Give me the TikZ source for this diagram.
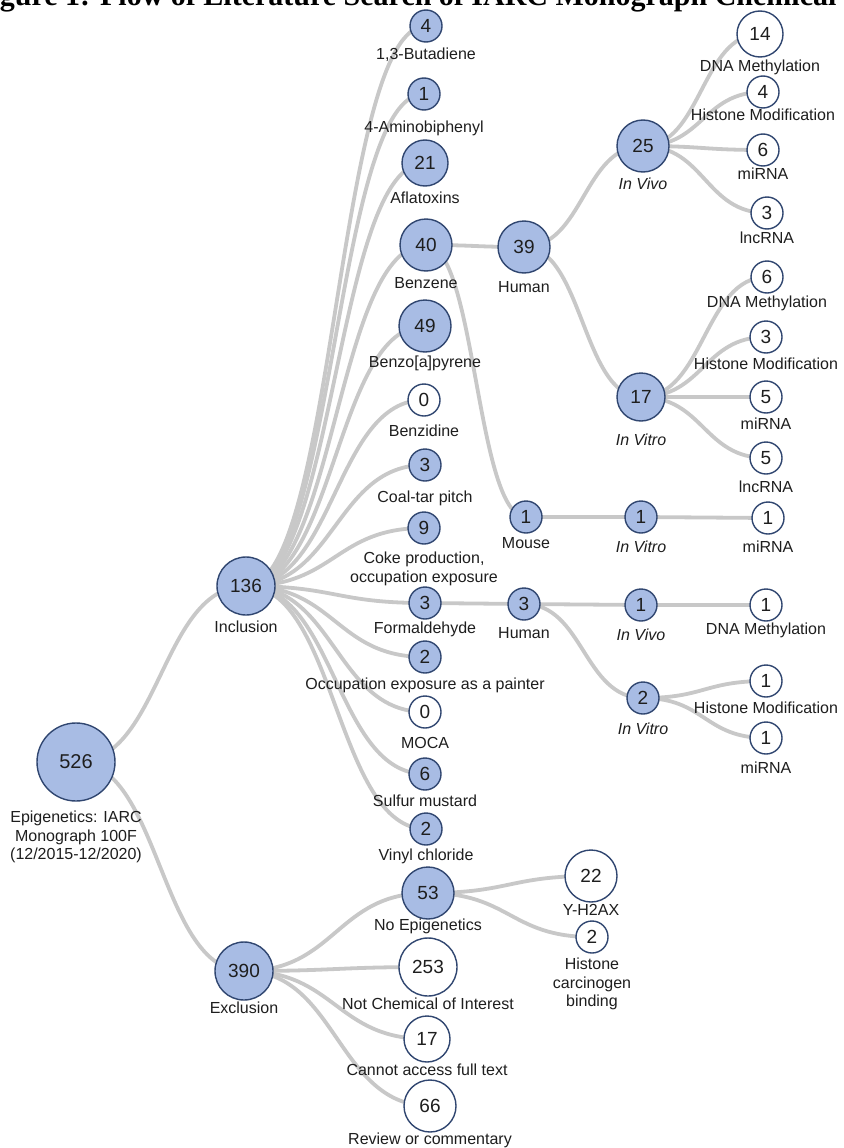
\documentclass[tikz,border=0pt]{standalone}
\usepackage{fontspec}
\setmainfont{Liberation Sans}
\newfontfamily\titlefont{Liberation Serif}
\usetikzlibrary{calc}
\pgfdeclarelayer{bg}
\pgfdeclarelayer{paper}
\pgfsetlayers{paper,bg,main}
\definecolor{nodefill}{RGB}{168,188,228}
\definecolor{nodeline}{RGB}{48,70,112}
\definecolor{linkgray}{RGB}{200,200,200}
\definecolor{txt}{RGB}{30,30,30}
\tikzset{
  bnode/.style={circle, draw=nodeline, line width=1.4pt, fill=nodefill, inner sep=0pt, text=txt, font=\fontsize{19}{19}\selectfont},
  wnode/.style={bnode, fill=white},
  lbl/.style={text=txt, font=\fontsize{16}{18.5}\selectfont, align=center, inner sep=0pt},
  ilbl/.style={lbl, font=\fontsize{16}{18.5}\selectfont\itshape},
  link/.style={draw=linkgray, line width=3.8pt}
}
% name, style, x, y, diameter, number, label y, label
\newcommand{\cn}[8]{%
  \node[#2, minimum size=#5pt] (#1) at (#3,#4) {#6};
  \node[lbl] (#1l) at (#3,#7) {#8};
}
\newcommand{\cni}[8]{%
  \node[#2, minimum size=#5pt] (#1) at (#3,#4) {#6};
  \node[ilbl] (#1l) at (#3,#7) {#8};
}
\newcommand{\lk}[2]{%
  \begin{pgfonlayer}{bg}
  \path (#1.center) -- coordinate (lkm) (#2.center);
  \draw[link] (#1.center) .. controls (lkm |- #1.center) and (lkm |- #2.center) .. (#2.center);
  \end{pgfonlayer}}
\begin{document}
\begin{tikzpicture}[x=1pt, y=-1pt]
\useasboundingbox (0,0) rectangle (843,1148);
\begin{pgfonlayer}{paper}
\fill[white] (0,0) rectangle (843,1148);
\end{pgfonlayer}
\begin{scope}
\clip (0,0) rectangle (843,1148);
\node[anchor=base west, inner sep=0pt, font=\fontsize{30}{30}\titlefont\bfseries] (title) at (-27,6) {Figure 1: Flow of Literature Search of IARC Monograph Chemical Agents};
\end{scope}

% root and first level
\node[bnode, minimum size=78pt, font=\fontsize{20}{20}\selectfont] (root) at (76,762) {526};
\node[lbl] (rootl) at (76,837) {Epigenetics: IARC\\Monograph 100F\\(12/2015-12/2020)};
\cn{inc}{bnode}{246}{586}{58}{136}{627}{Inclusion}
\cn{exc}{bnode}{244}{971}{58}{390}{1008}{Exclusion}

% chemicals
\cn{c1}{bnode}{426}{26}{32}{4}{55}{1,3-Butadiene}
\cn{c2}{bnode}{424}{94}{32}{1}{128}{4-Aminobiphenyl}
\cn{c3}{bnode}{425}{163}{46}{21}{198}{Aflatoxins}
\cn{c4}{bnode}{426}{245}{52}{40}{283}{Benzene}
\cn{c5}{bnode}{425}{326}{52}{49}{363}{Benzo[a]pyrene}
\cn{c6}{wnode}{424}{400}{32}{0}{431}{Benzidine}
\cn{c7}{bnode}{425}{465}{32}{3}{498}{Coal-tar pitch}
\cn{c8}{bnode}{424}{528}{32}{9}{569}{Coke production,\\occupation exposure}
\cn{c9}{bnode}{425}{603}{32}{3}{629}{Formaldehyde}
\cn{c10}{bnode}{425}{657}{32}{2}{685}{Occupation exposure as a painter}
\cn{c11}{wnode}{425}{712}{32}{0}{743}{MOCA}
\cn{c12}{bnode}{425}{774}{32}{6}{801}{Sulfur mustard}
\cn{c13}{bnode}{426}{829}{32}{2}{856}{Vinyl chloride}

% exclusion reasons
\cn{e1}{bnode}{428}{893}{52}{53}{926}{No Epigenetics}
\cn{e2}{wnode}{428}{967}{58}{253}{1004}{Not Chemical of Interest}
\cn{e3}{wnode}{427}{1039}{46}{17}{1070}{Cannot access full text}
\cn{e4}{wnode}{430}{1106}{52}{66}{1140}{Review or commentary}
\cn{y1}{wnode}{591}{876}{52}{22}{910}{Y-H2AX}
\cn{y2}{wnode}{592}{937}{32}{2}{984}{Histone\\carcinogen\\binding}

% benzene branch
\cn{bh}{bnode}{524}{247}{52}{39}{287}{Human}
\cni{bv}{bnode}{643}{146}{52}{25}{184}{In Vivo}
\cni{bt}{bnode}{641}{397}{48}{17}{440}{In Vitro}
\cn{bv1}{wnode}{760}{34}{46}{14}{67}{DNA Methylation}
\cn{bv2}{wnode}{763}{92}{32}{4}{115}{Histone Modification}
\cn{bv3}{wnode}{763}{150}{32}{6}{174}{miRNA}
\cn{bv4}{wnode}{767}{213}{32}{3}{238}{lncRNA}
\cn{bt1}{wnode}{767}{277}{32}{6}{303}{DNA Methylation}
\cn{bt2}{wnode}{766}{337}{32}{3}{364}{Histone Modification}
\cn{bt3}{wnode}{766}{397}{32}{5}{424}{miRNA}
\cn{bt4}{wnode}{766}{458}{32}{5}{487}{lncRNA}
\cn{bm}{bnode}{526}{517}{32}{1}{543}{Mouse}
\cni{bmt}{bnode}{641}{517}{32}{1}{547}{In Vitro}
\cn{bmm}{wnode}{768}{518}{32}{1}{547}{miRNA}

% formaldehyde branch
\cn{fh}{bnode}{524}{604}{32}{3}{633}{Human}
\cni{fv}{bnode}{641}{605}{32}{1}{635}{In Vivo}
\cn{fv1}{wnode}{766}{605}{32}{1}{630}{DNA Methylation}
\cni{ft}{bnode}{643}{698}{32}{2}{729}{In Vitro}
\cn{ft1}{wnode}{766}{681}{32}{1}{708}{Histone Modification}
\cn{ft2}{wnode}{766}{738}{32}{1}{768}{miRNA}

% links
\lk{root}{inc}\lk{root}{exc}
\lk{inc}{c1}\lk{inc}{c2}\lk{inc}{c3}\lk{inc}{c4}\lk{inc}{c5}\lk{inc}{c6}\lk{inc}{c7}
\lk{inc}{c8}\lk{inc}{c9}\lk{inc}{c10}\lk{inc}{c11}\lk{inc}{c12}\lk{inc}{c13}
\lk{exc}{e1}\lk{exc}{e2}\lk{exc}{e3}\lk{exc}{e4}
\lk{e1}{y1}\lk{e1}{y2}
\lk{c4}{bh}\lk{c4}{bm}
\lk{bh}{bv}\lk{bh}{bt}
\lk{bv}{bv1}\lk{bv}{bv2}\lk{bv}{bv3}\lk{bv}{bv4}
\lk{bt}{bt1}\lk{bt}{bt2}\lk{bt}{bt3}\lk{bt}{bt4}
\lk{bm}{bmt}\lk{bmt}{bmm}
\lk{c9}{fh}\lk{fh}{fv}\lk{fh}{ft}\lk{fv}{fv1}\lk{ft}{ft1}\lk{ft}{ft2}
\end{tikzpicture}
\end{document}
